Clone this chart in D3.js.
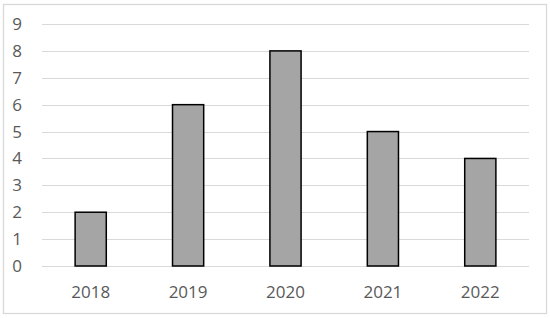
<!DOCTYPE html>
<html>
<head>
<meta charset="utf-8">
<script src="https://cdn.jsdelivr.net/npm/d3@7"></script>
<style>
  body { margin: 0; background: #fff; }
  text { font-family: "Open Sans", "Noto Sans", sans-serif; }
</style>
</head>
<body>
<svg width="550" height="318"></svg>
<script>
const years = ["2018", "2019", "2020", "2021", "2022"];
const counts = [2, 6, 8, 5, 4];
const yTicks = [0, 1, 2, 3, 4, 5, 6, 7, 8, 9];

const margin = { top: 24, right: 21, bottom: 52, left: 42 };
const width = 550, height = 318;

let svg = d3.select("svg");

// outer frame
svg.append("rect")
    .attr("x", 3.5).attr("y", 4.5)
    .attr("width", 543).attr("height", 309)
    .attr("fill", "#fff")
    .attr("stroke", "#d9d9d9")
    .attr("stroke-width", 1.3);

const x = d3.scaleBand()
    .domain(years)
    .range([margin.left, width - margin.right])
    .paddingInner(0.68)
    .paddingOuter(0.34);

const y = d3.scaleLinear()
    .domain([0, 9])
    .range([height - margin.bottom, margin.top]);

// gridlines
svg.append("g")
    .selectAll("line")
    .data(yTicks)
    .join("line")
    .attr("x1", margin.left)
    .attr("x2", width - margin.right)
    .attr("y1", d => Math.round(y(d)) + 0.5)
    .attr("y2", d => Math.round(y(d)) + 0.5)
    .attr("stroke", "#d9d9d9")
    .attr("stroke-width", 1);

// y labels
svg.append("g")
    .selectAll("text")
    .data(yTicks)
    .join("text")
    .attr("x", 22)
    .attr("y", d => y(d))
    .attr("dy", "0.35em")
    .attr("text-anchor", "end")
    .attr("font-size", 17)
    .attr("fill", "#595959")
    .text(d => d);

// bars
svg.append("g")
    .selectAll("rect")
    .data(counts)
    .join("rect")
    .attr("x", (d, i) => x(years[i]))
    .attr("y", d => y(d))
    .attr("width", x.bandwidth())
    .attr("height", d => y(0) - y(d))
    .attr("fill", "#a5a5a5")
    .attr("stroke", "#000")
    .attr("stroke-width", 1.5);

// x labels
svg.append("g")
    .selectAll("text")
    .data(years)
    .join("text")
    .attr("x", d => x(d) + x.bandwidth() / 2)
    .attr("y", 292)
    .attr("dy", "0.35em")
    .attr("text-anchor", "middle")
    .attr("font-size", 17)
    .attr("fill", "#595959")
    .text(d => d);
</script>
</body>
</html>
